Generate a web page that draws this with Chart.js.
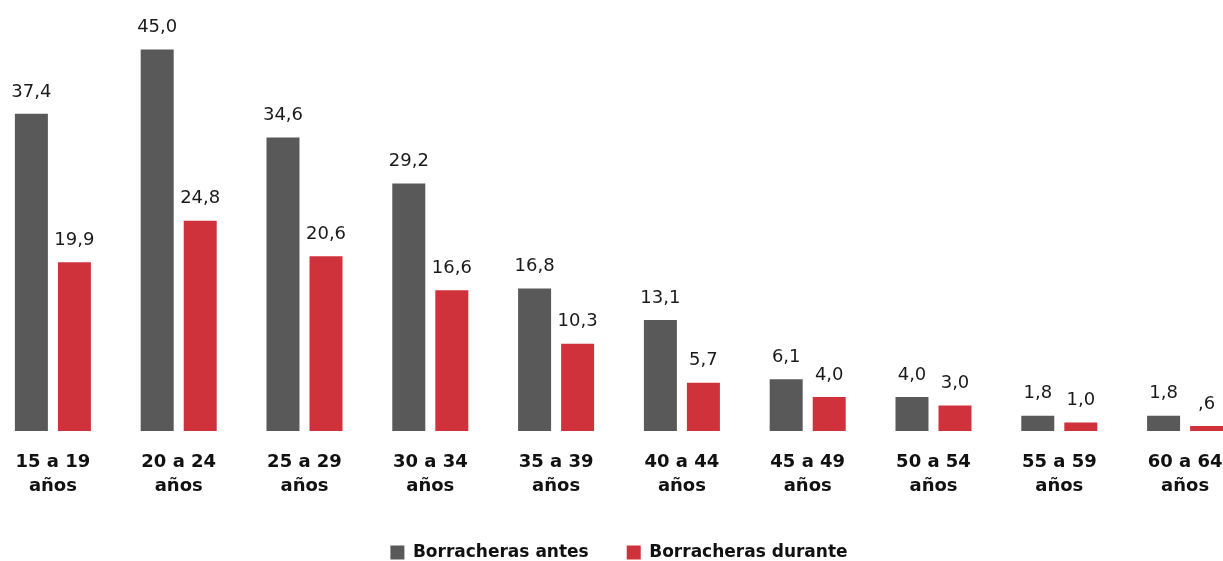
<!DOCTYPE html>
<html>
<head>
<meta charset="utf-8">
<script src="https://cdn.jsdelivr.net/npm/chart.js@4"></script>
<style>
html,body{margin:0;padding:0;background:#fff;overflow:hidden;width:1223px;height:561px;}
#wrap{position:absolute;left:-10px;top:0;width:1258px;height:561px;}
</style>
</head>
<body>
<div id="wrap"><canvas id="c"></canvas></div>
<script>
const categories = [['15 a 19','años'],['20 a 24','años'],['25 a 29','años'],['30 a 34','años'],['35 a 39','años'],['40 a 44','años'],['45 a 49','años'],['50 a 54','años'],['55 a 59','años'],['60 a 64','años']];
const antes = [37.4, 45.0, 34.6, 29.2, 16.8, 13.1, 6.1, 4.0, 1.8, 1.8];
const durante = [19.9, 24.8, 20.6, 16.6, 10.3, 5.7, 4.0, 3.0, 1.0, 0.6];
const seriesNames = ['Borracheras antes', 'Borracheras durante'];

const FONT = '"DejaVu Sans", sans-serif';
function fmt(v){ let s = v.toFixed(1).replace('.', ','); if (s.startsWith('0,')) s = s.slice(1); return s; }

const labelPlugin = {
  id: 'vals',
  afterDatasetsDraw(chart){
    const ctx = chart.ctx;
    ctx.save();
    ctx.font = '18px ' + FONT;
    ctx.fillStyle = '#1a1a1a';
    ctx.textAlign = 'center';
    ctx.textBaseline = 'bottom';
    chart.data.datasets.forEach((ds, i) => {
      chart.getDatasetMeta(i).data.forEach((bar, j) => {
        ctx.fillText(fmt(ds.data[j]), bar.x, bar.y - 13);
      });
    });
    ctx.restore();
  }
};

new Chart(document.getElementById('c'), {
  type: 'bar',
  data: {
    labels: categories,
    datasets: [
      { label: seriesNames[0], data: antes, backgroundColor: '#595959' },
      { label: seriesNames[1], data: durante, backgroundColor: '#D0323C' }
    ]
  },
  options: {
    responsive: true,
    maintainAspectRatio: false,
    animation: false,
    datasets: { bar: { categoryPercentage: 0.684, barPercentage: 0.767 } },
    layout: { padding: { top: 7, bottom: -10 } },
    scales: {
      x: {
        grid: { display: false, drawTicks: false },
        border: { display: false },
        ticks: { color: '#111', font: { family: FONT, size: 18, weight: 'bold', lineHeight: '24px' }, padding: 19, maxRotation: 0, autoSkip: false },
        afterFit(scale) { scale.height = 75; }
      },
      y: { display: false, min: 0, max: 50 }
    },
    plugins: {
      legend: {
        position: 'bottom',
        labels: { boxWidth: 14, boxHeight: 14, padding: 38, color: '#111', font: { family: FONT, size: 17, weight: 'bold' } }
      },
      tooltip: { enabled: false }
    }
  },
  plugins: [labelPlugin]
});
</script>
</body>
</html>
